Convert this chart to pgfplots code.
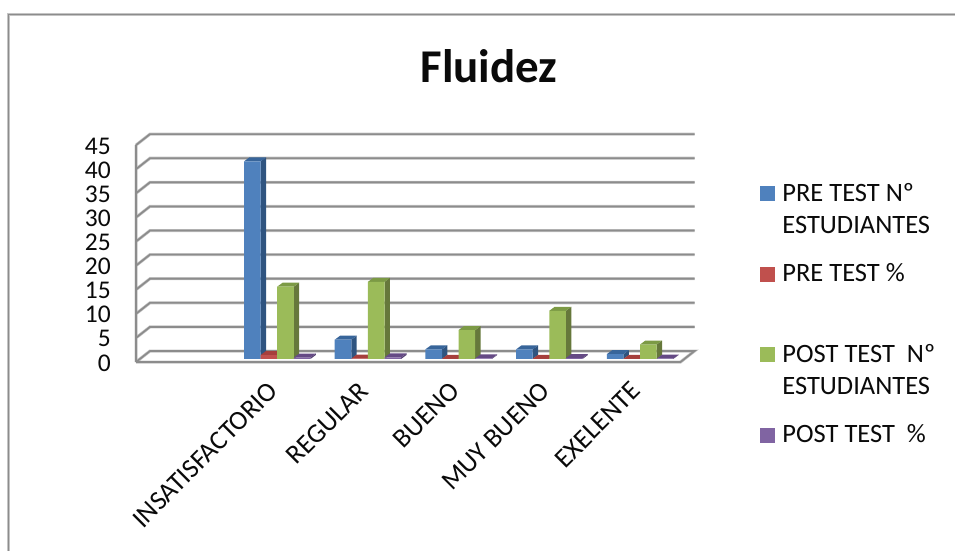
\documentclass[border=0pt]{standalone}
\usepackage{pgfplots}
\usepackage{pgfplotstable}
\usepackage{fontspec}
\setmainfont{Carlito}
\pgfplotsset{compat=1.18}
\definecolor{txt}{HTML}{0A0A0A}
\definecolor{gridA}{HTML}{C4C4C4}
\definecolor{gridB}{HTML}{8C8C8C}
\definecolor{bluF}{HTML}{4F81BD}\definecolor{bluS}{HTML}{2F5480}\definecolor{bluT}{HTML}{38659A}
\definecolor{redF}{HTML}{C0504D}\definecolor{redS}{HTML}{8C3836}\definecolor{redT}{HTML}{A63F3C}
\definecolor{greF}{HTML}{9BBB59}\definecolor{greS}{HTML}{66783B}\definecolor{greT}{HTML}{7C9A45}
\definecolor{purF}{HTML}{8064A2}\definecolor{purS}{HTML}{574473}\definecolor{purT}{HTML}{654A85}

% category, then the four series
\pgfplotstableread{
c pre prep post postp
0 41 0.82 15 0.30
1 4 0.08 16 0.32
2 2 0.04 6 0.12
3 2 0.04 10 0.20
4 1 0.02 3 0.06
}\datatable

% lines of the box: front corner, floor and back wall
\pgfplotstableread{
x y
-1.5568 0
-1.5568 45
nan nan
-1.5568 0
4.4465 0
4.6009 2.28
-1.4024 2.28
-1.5568 0
nan nan
-1.5568 5
-1.4024 7.28
4.6009 7.28
nan nan
-1.5568 10
-1.4024 12.28
4.6009 12.28
nan nan
-1.5568 15
-1.4024 17.28
4.6009 17.28
nan nan
-1.5568 20
-1.4024 22.28
4.6009 22.28
nan nan
-1.5568 25
-1.4024 27.28
4.6009 27.28
nan nan
-1.5568 30
-1.4024 32.28
4.6009 32.28
nan nan
-1.5568 35
-1.4024 37.28
4.6009 37.28
nan nan
-1.5568 40
-1.4024 42.28
4.6009 42.28
nan nan
-1.5568 45
-1.4024 47.28
4.6009 47.28
}\boxlines

% side and top of one bar: #1 row, #2 position in the group, #3 column, #4 colour prefix
\newcommand\barfaces[4]{%
  \pgfplotstablegetelem{#1}{#3}\of\datatable
  \let\v\pgfplotsretval
  \pgfmathsetmacro\xl{#1+(#2-2)*0.18302}
  \pgfmathsetmacro\xr{\xl+0.18302}
  \pgfmathsetmacro\xlb{\xl+0.0595}
  \pgfmathsetmacro\xrb{\xr+0.0595}
  \pgfmathsetmacro\vb{\v+0.83}
  \edef\temp{\noexpand\addplot[fill=#4S,draw=none,forget plot] coordinates {(\xr,0) (\xr,\v) (\xrb,\vb) (\xrb,0.83)} --cycle;
    \noexpand\addplot[fill=#4T,draw=none,forget plot] coordinates {(\xl,\v) (\xr,\v) (\xrb,\vb) (\xlb,\vb)} --cycle;}%
  \temp
}

\pgfplotsset{
  chartaxis/.style={
    x=90.7pt, y=4.82pt,
    xmin=-1.5568, xmax=4.6009, ymin=0, ymax=45,
    clip=false,
    axis line style={draw=none},
    tick style={draw=none},
    major tick length=0pt,
  },
  sq/.style={legend image code/.code={\fill[##1,draw=none] (0pt,0pt) rectangle (15pt,15pt);}},
}

\begin{document}
\begin{tikzpicture}[x=1pt,y=1pt]
\useasboundingbox (0,0) rectangle (955,551);
\draw[gridA,line width=3pt] (8.5,0) -- (8.5,536.4) -- (955,536.4);
\draw[gridB,line width=1.7pt] (8.5,0) -- (8.5,536.4) -- (955,536.4);

\begin{axis}[chartaxis,
  at={(136pt,189pt)}, anchor=south west,
  /pgf/number format/assume math mode=true,
  ytick={0,5,...,45},
  xtick={0,1,2,3,4},
  xticklabels={INSATISFACTORIO,REGULAR,BUENO,MUY BUENO,EXELENTE},
  tick label style={font=\fontsize{25.5}{30}\selectfont,text=txt,inner sep=0pt},
  yticklabel style={anchor=east,xshift=-25pt,yshift=-1pt},
  xticklabel style={font=\fontsize{27}{30}\selectfont,rotate=45,anchor=north east,xshift=-20pt,yshift=-5.5pt},
  title={\fontsize{47}{50}\selectfont\bfseries Fluidez},
  title style={at={(axis cs:2.335,60.2)},anchor=center,text=txt,inner sep=0pt},
]
\addplot[gridA,line width=3pt,unbounded coords=jump,forget plot] table[x=x,y=y] {\boxlines};
\addplot[gridB,line width=1.7pt,unbounded coords=jump,forget plot] table[x=x,y=y] {\boxlines};
\end{axis}

\begin{axis}[chartaxis,
  at={(136pt,192pt)}, anchor=south west,
  hide axis,
  legend style={
    at={(axis cs:5.325,36.9)},anchor=north west,draw=none,fill=none,inner sep=0pt,
    font=\fontsize{26.5}{32}\selectfont,text=txt,
    column sep=7pt,row sep=0pt,
    nodes={text height=20pt,text depth=60.5pt,inner sep=0pt,anchor=base},
  },
  legend cell align=left,
]
\pgfplotsforeachungrouped \r in {0,1,2,3,4}{%
  \barfaces{\r}{0}{pre}{blu}%
  \barfaces{\r}{1}{prep}{red}%
  \barfaces{\r}{2}{post}{gre}%
  \barfaces{\r}{3}{postp}{pur}%
}
\addplot[ybar,bar width=16.6pt,bar shift=-24.9pt,fill=bluF,draw=none,sq] table[x=c,y=pre] {\datatable};
\addplot[ybar,bar width=16.6pt,bar shift=-8.3pt,fill=redF,draw=none,sq] table[x=c,y=prep] {\datatable};
\addplot[ybar,bar width=16.6pt,bar shift=8.3pt,fill=greF,draw=none,sq] table[x=c,y=post] {\datatable};
\addplot[ybar,bar width=16.6pt,bar shift=24.9pt,fill=purF,draw=none,sq] table[x=c,y=postp] {\datatable};
\legend{\parbox[t]{165pt}{PRE TEST Nº\\ESTUDIANTES},
        \parbox[t]{165pt}{PRE TEST \%},
        \parbox[t]{165pt}{POST TEST\ \ Nº\\ESTUDIANTES},
        \parbox[t]{165pt}{POST TEST\ \ \%}}
\end{axis}
\end{tikzpicture}
\end{document}
